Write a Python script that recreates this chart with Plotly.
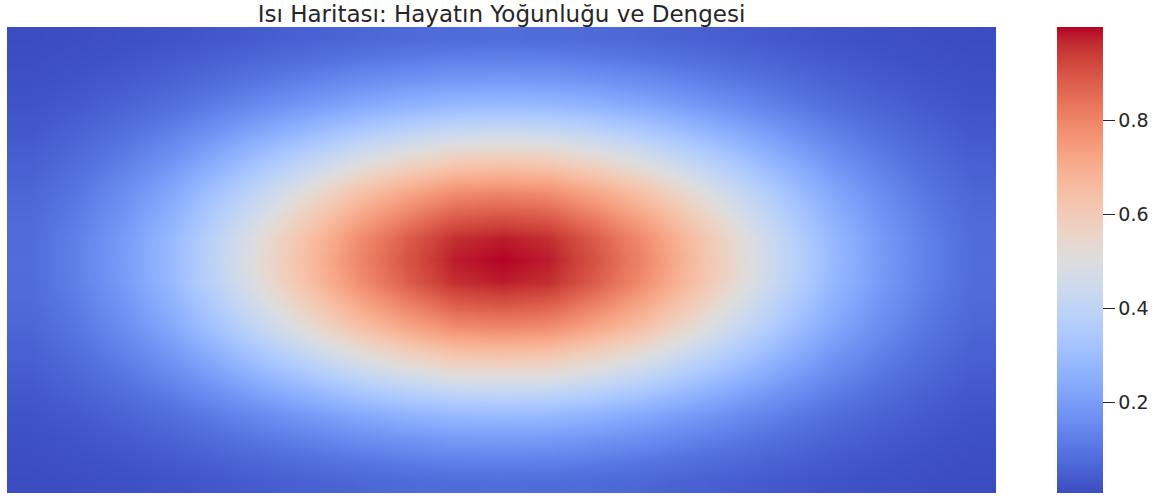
import plotly.graph_objects as go

# Positions (normalised, -1 .. 1) of the sampled profile points
x_positions = [-1.0, -0.9, -0.8, -0.7, -0.6, -0.5, -0.4, -0.3, -0.2, -0.1, 0.0,
               0.1, 0.2, 0.3, 0.4, 0.5, 0.6, 0.7, 0.8, 0.9, 1.0]
y_positions = [-1.0, -0.9, -0.8, -0.7, -0.6, -0.5, -0.4, -0.3, -0.2, -0.1, 0.0,
               0.1, 0.2, 0.3, 0.4, 0.5, 0.6, 0.7, 0.8, 0.9, 1.0]

# Intensity profile read across the centre row (left -> right)
col_profile = [0.08, 0.13, 0.20, 0.29, 0.41, 0.54, 0.67, 0.80, 0.90, 0.98, 1.00,
               0.98, 0.90, 0.80, 0.67, 0.54, 0.41, 0.29, 0.20, 0.13, 0.08]
# Intensity profile read down the centre column (top -> bottom)
row_profile = [0.08, 0.13, 0.20, 0.29, 0.41, 0.54, 0.67, 0.80, 0.90, 0.98, 1.00,
               0.98, 0.90, 0.80, 0.67, 0.54, 0.41, 0.29, 0.20, 0.13, 0.08]

colorbar_ticks = [0.2, 0.4, 0.6, 0.8]
colorbar_labels = ["0.2", "0.4", "0.6", "0.8"]
title_text = "Isı Haritası: Hayatın Yoğunluğu ve Dengesi"

# Grid of cell values built from the two profiles
z = [[r * c for c in col_profile] for r in row_profile]

# matplotlib "coolwarm"
cw = [
    (59, 76, 192), (68, 90, 204), (77, 104, 215), (87, 117, 225), (98, 130, 234),
    (108, 142, 241), (119, 154, 247), (130, 165, 251), (141, 176, 254), (152, 185, 255),
    (163, 194, 255), (174, 201, 253), (184, 208, 249), (194, 213, 244), (204, 217, 238),
    (213, 219, 230), (221, 221, 221), (229, 216, 209), (236, 211, 197), (241, 204, 185),
    (245, 196, 173), (247, 187, 160), (247, 177, 148), (247, 166, 135), (244, 154, 123),
    (241, 141, 111), (236, 127, 99), (229, 112, 88), (222, 96, 77), (213, 80, 66),
    (203, 62, 56), (192, 40, 47), (180, 4, 38),
]
colorscale = [[i / (len(cw) - 1), "rgb(%d,%d,%d)" % c] for i, c in enumerate(cw)]

L, R, T, B = 7, 179, 27, 5
W, H = 1175, 498
plot_w = W - L - R

fig = go.Figure(
    go.Heatmap(
        x=x_positions,
        y=y_positions,
        z=z,
        colorscale=colorscale,
        zsmooth="best",
        hoverinfo="skip",
        colorbar=dict(
            x=1 + (1057 - (W - R)) / plot_w,
            xanchor="left",
            y=0.5,
            yanchor="middle",
            len=1.0,
            lenmode="fraction",
            xpad=0,
            ypad=0,
            thickness=46,
            thicknessmode="pixels",
            outlinewidth=0,
            tickvals=colorbar_ticks,
            ticktext=colorbar_labels,
            ticks="outside",
            ticklen=12,
            tickwidth=1,
            tickcolor="#262626",
            tickfont=dict(family="DejaVu Sans", size=19, color="#262626"),
        ),
    )
)

fig.update_xaxes(visible=False, range=[-1.05, 1.05])
fig.update_yaxes(visible=False, range=[1.05, -1.05])

fig.update_layout(
    width=W,
    height=H,
    margin=dict(l=L, r=R, t=T, b=B, autoexpand=False),
    paper_bgcolor="white",
    plot_bgcolor="white",
    title=dict(
        text=title_text,
        x=(L + plot_w / 2) / W,
        xanchor="center",
        y=1 - 14 / H,
        yanchor="middle",
        font=dict(family="DejaVu Sans", size=23, color="#262626"),
    ),
)

fig.write_html(
    "out.html",
    config={"displayModeBar": False},
    post_script="document.body.style.margin='0';document.body.style.padding='0';",
)
